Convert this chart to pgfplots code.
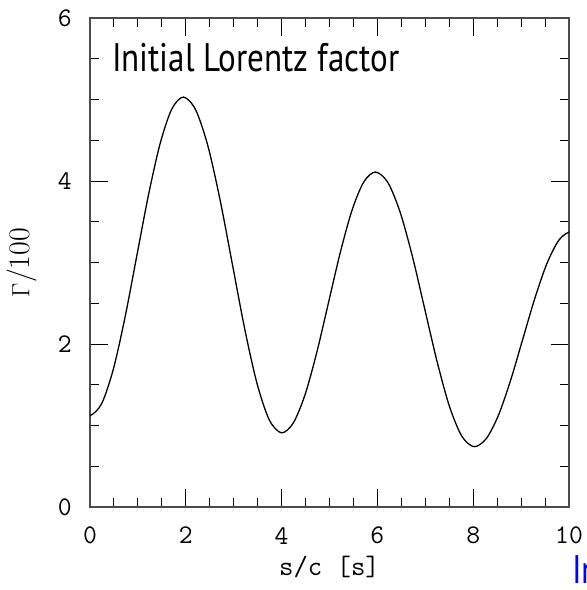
\documentclass[border=0pt]{standalone}
\usepackage{pgfplots}
\pgfplotsset{compat=1.18}
\usepackage{fontspec}
\newfontfamily\labelsans[FakeStretch=0.83]{PT Sans}
\begin{document}
\begin{tikzpicture}
\begin{axis}[
  scale only axis, width=479bp, height=489bp,
  xmin=0, xmax=10, ymin=0, ymax=6,
  xtick={0,2,4,6,8,10}, ytick={0,2,4,6},
  minor x tick num=3, minor y tick num=3,
  tick align=inside, major tick length=18bp, minor tick length=9bp,
  tick style={black, line width=0.9bp},
  axis line style={black!70, line width=1.4bp},
  /pgf/number format/assume math mode=true,
  ticklabel style={font=\fontsize{27}{27}\selectfont\ttfamily},
  xticklabel style={inner sep=0pt, anchor=north, yshift=-20bp},
  yticklabel style={inner sep=0pt, anchor=east, xshift=-18bp},
  xlabel={s/c [s]},
  xlabel style={font=\fontsize{28}{28}\selectfont\ttfamily, at={(axis description cs:0.5,-0.141)}, anchor=base},
  ylabel={$\Gamma$/100},
  ylabel style={font=\fontsize{30}{30}\selectfont, at={(axis description cs:-0.142,0.5)}, anchor=center},
  clip=true,
]
\addplot[black, line width=1.3bp, smooth] coordinates {
(-0.244,1.14) (0,1.12) (0.244,1.269) (0.488,1.693) (0.731,2.327) (0.975,3.075) (1.219,3.823) (1.463,4.457) (1.706,4.881) (1.95,5.03)
(2.206,4.873) (2.463,4.427) (2.719,3.758) (2.975,2.97) (3.231,2.182) (3.488,1.513) (3.744,1.067) (4.0,0.91)
(4.245,1.032) (4.49,1.379) (4.735,1.898) (4.98,2.51) (5.225,3.122) (5.47,3.641) (5.715,3.988) (5.96,4.11)
(6.218,3.982) (6.475,3.617) (6.733,3.070) (6.99,2.425) (7.248,1.780) (7.505,1.233) (7.763,0.868) (8.02,0.74)
(8.274,0.840) (8.528,1.127) (8.781,1.555) (9.035,2.06) (9.289,2.565) (9.543,2.993) (9.796,3.280) (10.05,3.38) (10.3,3.3)
};
\node[anchor=base west, inner sep=0pt, font=\fontsize{40}{40}\selectfont\labelsans] at (axis description cs:0.0459,0.8916) {Initial Lorentz factor};
\end{axis}
\node[anchor=north west, inner sep=0pt, text=blue, font=\fontsize{40}{40}\selectfont\labelsans] at (482bp,-48bp) {Initial Lorentz factor};
\pgfresetboundingbox
\useasboundingbox (-90bp,-83bp) rectangle (497bp,507bp);
\end{tikzpicture}
\end{document}
